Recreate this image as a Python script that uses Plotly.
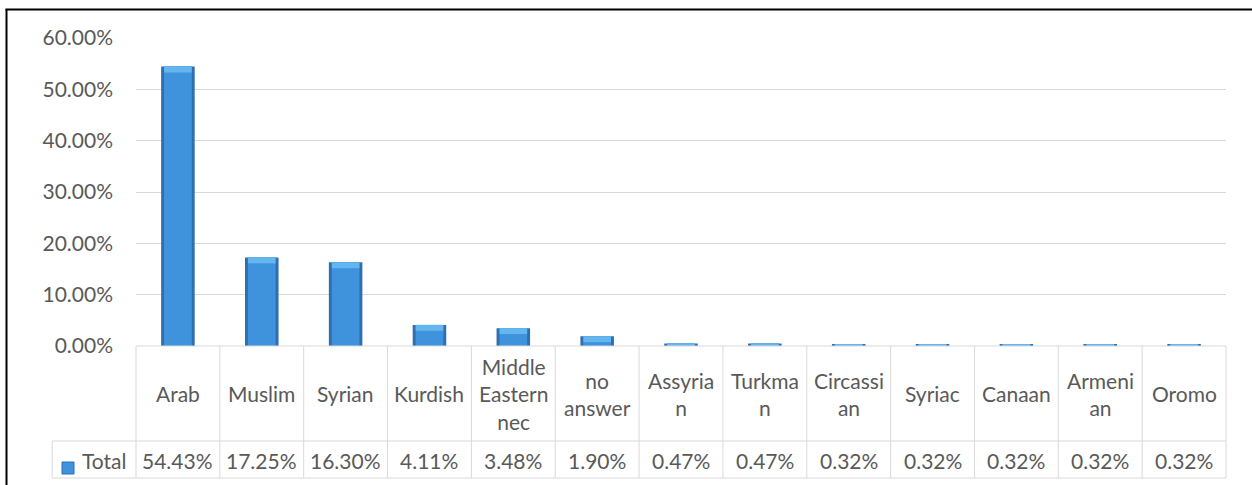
import numpy as np
import plotly.graph_objects as go

categories = ["Arab", "Muslim", "Syrian", "Kurdish", "Middle Eastern nec", "no answer",
              "Assyrian", "Turkman", "Circassian", "Syriac", "Canaan", "Armenian", "Oromo"]
tick_labels = ["Arab", "Muslim", "Syrian", "Kurdish", "Middle<br>Eastern<br>nec", "no<br>answer",
               "Assyria<br>n", "Turkma<br>n", "Circassi<br>an", "Syriac", "Canaan", "Armeni<br>an", "Oromo"]
values = [0.5443, 0.1725, 0.1630, 0.0411, 0.0348, 0.0190,
          0.0047, 0.0047, 0.0032, 0.0032, 0.0032, 0.0032, 0.0032]
series_name = "Total"
y_ticks = [0.0, 0.1, 0.2, 0.3, 0.4, 0.5, 0.6]

W, H = 1252, 485
PL, PR, PT, PB = 136, 1226, 38, 346
FONT = "Lato"
TXT = "#595959"
GRID = "#D9D9D9"


def fx(px):
    return (px - PL) / (PR - PL)


def fy(py):
    return (PB - py) / (PB - PT)


n = len(categories)
xs = list(range(n))
vals = np.array(values)
bevel = 0.0115
bev_base = np.maximum(vals - bevel, 0)

fig = go.Figure()
fig.add_trace(go.Bar(x=xs, y=values, width=0.4, marker=dict(color="#2E6FB3", line=dict(width=0)),
                     name=series_name, showlegend=False, hoverinfo="skip"))
fig.add_trace(go.Bar(x=xs, y=values, width=0.33, marker=dict(color="#3F93DC", line=dict(width=0)),
                     showlegend=False, customdata=categories,
                     hovertemplate="%{customdata}: %{y:.2%}<extra></extra>"))
fig.add_trace(go.Bar(x=xs, y=(vals - bev_base).tolist(), base=bev_base.tolist(), width=0.33,
                     marker=dict(color="#63B6EE", line=dict(width=0)),
                     showlegend=False, hoverinfo="skip"))

shapes = []
line = dict(color=GRID, width=1)
# table horizontal lines
shapes.append(dict(type="line", xref="paper", yref="paper", x0=0, x1=1, y0=fy(346), y1=fy(346), line=line))
for py in (441, 478):
    shapes.append(dict(type="line", xref="paper", yref="paper", x0=-1 / n, x1=1, y0=fy(py), y1=fy(py), line=line))
# table vertical lines
for i in range(n + 1):
    shapes.append(dict(type="line", xref="paper", yref="paper", x0=i / n, x1=i / n,
                       y0=fy(346), y1=fy(478), line=line))
shapes.append(dict(type="line", xref="paper", yref="paper", x0=-1 / n, x1=-1 / n,
                   y0=fy(441), y1=fy(478), line=line))
# legend key
shapes.append(dict(type="rect", xref="paper", yref="paper", x0=fx(62), x1=fx(74), y0=fy(474), y1=fy(462),
                   fillcolor="#3F93DC", line=dict(color="#2E6FB3", width=1)))
# outer frame (left and top)
shapes.append(dict(type="line", xref="paper", yref="paper", x0=fx(6.5), x1=fx(6.5), y0=fy(9), y1=fy(490),
                   line=dict(color="black", width=2)))
shapes.append(dict(type="line", xref="paper", yref="paper", x0=fx(5.5), x1=fx(1260), y0=fy(9.5), y1=fy(9.5),
                   line=dict(color="black", width=2)))

annotations = []
for i, lab in enumerate(tick_labels):
    annotations.append(dict(x=i, y=fy(393.5), xref="x", yref="paper", text=lab, showarrow=False,
                            xanchor="center", yanchor="middle", align="center",
                            font=dict(family=FONT, size=21, color=TXT)))
    annotations.append(dict(x=i, y=fy(460), xref="x", yref="paper", text=f"{values[i]*100:.2f}%",
                            showarrow=False, xanchor="center", yanchor="middle",
                            font=dict(family=FONT, size=21, color=TXT)))
annotations.append(dict(x=fx(80), y=fy(460), xref="paper", yref="paper", text=series_name, showarrow=False,
                        xanchor="left", yanchor="middle", font=dict(family=FONT, size=21, color=TXT)))

fig.update_layout(
    width=W, height=H,
    margin=dict(l=PL, r=W - PR, t=PT, b=H - PB, pad=0),
    paper_bgcolor="white", plot_bgcolor="white",
    barmode="overlay", bargap=0.6,
    font=dict(family=FONT, size=21, color=TXT),
    xaxis=dict(range=[-0.5, n - 0.5], showticklabels=False, showgrid=False, zeroline=False,
               showline=False, ticks=""),
    yaxis=dict(range=[0, 0.6], tickvals=y_ticks, tickformat=".2%", showgrid=True, gridcolor=GRID,
               gridwidth=1, zeroline=False, showline=False, ticks="", ticklabelstandoff=22,
               tickfont=dict(family=FONT, size=21, color=TXT)),
    shapes=shapes, annotations=annotations,
)

fig.write_html("out.html", config={"displayModeBar": False},
               post_script="document.body.style.margin='0';document.body.style.overflow='hidden';")
